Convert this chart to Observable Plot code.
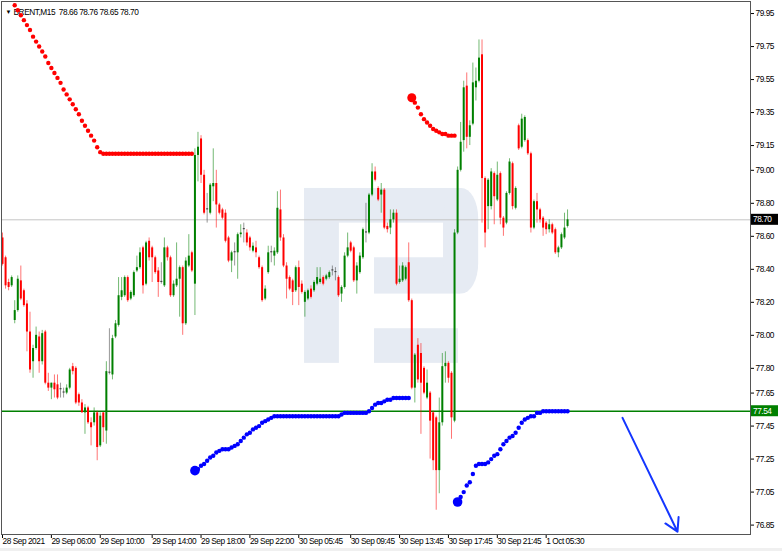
<!DOCTYPE html>
<html><head><meta charset="utf-8">
<script src="https://cdn.jsdelivr.net/npm/d3@7"></script>
<script src="https://cdn.jsdelivr.net/npm/@observablehq/plot@0.6"></script>
<style>
html,body{margin:0;padding:0;background:#fff;}
#chart{width:782px;height:551px;overflow:hidden;}
#chart svg text{ letter-spacing:-0.45px; }
#chart svg [aria-label^="x-axis"] text{ text-anchor:start; }
</style></head><body><div id="chart"></div>
<script>
// ---------- data ----------
const symbol = "BRENT,M15";
const lastQuote = [78.66, 78.76, 78.65, 78.70];   // O H L C of the last bar
const timeLabels = ["28 Sep 2021","29 Sep 06:00","29 Sep 10:00","29 Sep 14:00","29 Sep 18:00","29 Sep 22:00","30 Sep 05:45","30 Sep 09:45","30 Sep 13:45","30 Sep 17:45","30 Sep 21:45","1 Oct 05:30"];
const timeTickBars = [0,16,32,49,65,81,97,114,130,146,162,178];
const priceTicks = [79.95,79.75,79.55,79.35,79.15,79.00,78.80,78.60,78.40,78.20,78.00,77.80,77.65,77.45,77.25,77.05,76.85];
const bidLevel = 78.70;
const supportLevel = 77.54;

const opens = [78.59,78.47,78.32,78.30,78.09,78.15,78.33,78.27,78.19,78.02,77.84,77.92,77.99,77.84,78.02,77.71,77.68,77.71,77.70,77.67,77.65,77.65,77.68,77.81,77.80,77.64,77.59,77.53,77.56,77.47,77.47,77.53,77.33,77.53,77.42,77.77,77.76,77.99,78.06,78.23,78.24,78.35,78.22,78.24,78.39,78.41,78.53,78.31,78.57,78.53,78.47,78.39,78.32,78.30,78.53,78.47,78.24,78.30,78.34,78.41,78.07,78.42,78.50,78.31,79.09,79.19,78.97,78.76,78.74,78.90,78.92,78.79,78.76,78.74,78.59,78.45,78.50,78.50,78.61,78.64,78.62,78.59,78.51,78.53,78.47,78.41,78.22,78.38,78.50,78.48,78.50,78.76,78.59,78.42,78.35,78.33,78.27,78.41,78.31,78.20,78.22,78.28,78.27,78.31,78.32,78.35,78.34,78.35,78.39,78.38,78.35,78.25,78.29,78.48,78.56,78.53,78.33,78.38,78.47,78.62,78.62,78.85,78.99,78.89,78.85,78.88,78.66,78.65,78.70,78.74,78.32,78.33,78.34,78.44,78.21,77.68,77.94,77.89,77.80,77.62,77.65,77.53,77.50,77.18,77.47,77.81,77.83,77.77,77.48,78.62,79.00,79.18,79.51,79.20,79.28,79.50,79.54,79.70,78.95,78.78,78.78,78.98,78.82,78.98,78.71,78.68,78.86,79.04,78.77,79.27,79.14,79.18,79.18,79.10,78.65,78.81,78.76,78.71,78.68,78.64,78.67,78.64,78.50,78.53,78.59,78.66];
const highs = [78.62,78.48,78.34,78.36,78.21,78.36,78.42,78.28,78.21,78.14,77.94,78.05,78.02,78.03,78.03,77.77,77.71,77.76,77.76,77.71,77.68,77.70,77.80,77.83,77.81,77.65,77.61,77.58,77.57,77.50,77.56,77.54,77.53,77.53,77.84,78.04,78.00,78.09,78.35,78.35,78.36,78.36,78.27,78.39,78.48,78.53,78.54,78.57,78.59,78.54,78.48,78.41,78.44,78.59,78.54,78.48,78.33,78.56,78.42,78.42,78.47,78.61,78.51,79.13,79.23,79.21,79.00,78.86,78.92,79.13,79.00,78.80,78.77,78.76,78.60,78.51,78.56,78.62,78.67,78.68,78.64,78.60,78.56,78.57,78.48,78.42,78.30,78.54,78.54,78.53,78.87,78.88,78.61,78.44,78.36,78.34,78.42,78.45,78.33,78.27,78.28,78.30,78.33,78.41,78.41,78.36,78.37,78.39,78.42,78.41,78.36,78.30,78.50,78.62,78.57,78.54,78.44,78.50,78.65,78.80,78.86,79.04,79.02,78.90,78.92,78.89,78.68,78.76,78.76,78.76,78.42,78.44,78.42,78.56,78.22,77.89,77.98,77.95,77.81,77.79,77.66,77.54,77.51,77.62,77.89,77.90,77.84,77.78,78.64,79.02,79.29,79.54,79.59,79.30,79.65,79.62,79.79,79.79,78.96,78.95,79.01,78.99,79.05,78.99,78.72,78.87,79.07,79.05,78.90,79.28,79.34,79.33,79.19,79.11,78.82,78.86,78.77,78.72,78.69,78.70,78.68,78.65,78.54,78.62,78.74,78.76];
const lows = [78.42,78.28,78.27,78.29,78.07,78.14,78.21,78.17,77.90,77.77,77.74,77.91,77.77,77.82,77.70,77.66,77.61,77.62,77.61,77.62,77.62,77.64,77.67,77.76,77.58,77.57,77.53,77.40,77.46,77.33,77.45,77.24,77.32,77.35,77.34,77.76,77.73,77.98,78.05,78.21,78.23,78.20,78.21,78.23,78.38,78.40,78.25,78.30,78.45,78.32,78.37,78.23,78.31,78.29,78.45,78.23,78.23,78.29,78.11,78.00,78.06,78.41,78.38,78.12,78.93,78.92,78.73,78.68,78.73,78.81,78.65,78.73,78.70,78.56,78.44,78.38,78.42,78.34,78.59,78.56,78.54,78.51,78.50,78.47,78.40,78.20,78.21,78.37,78.44,78.42,78.49,78.57,78.41,78.22,78.27,78.18,78.26,78.18,78.25,78.11,78.21,78.22,78.26,78.30,78.31,78.30,78.33,78.34,78.36,78.33,78.23,78.20,78.28,78.47,78.50,78.32,78.25,78.37,78.46,78.56,78.61,78.84,78.93,78.81,78.74,78.64,78.62,78.61,78.68,78.30,78.31,78.32,78.33,78.20,77.67,77.59,77.71,77.40,77.64,77.61,77.25,77.18,76.94,77.04,77.45,77.71,77.71,77.37,77.47,78.61,78.99,79.11,79.13,79.15,79.27,79.42,79.53,78.68,78.53,78.64,78.76,78.67,78.81,78.67,78.60,78.67,78.85,78.76,78.76,79.12,79.13,79.17,79.09,78.62,78.64,78.68,78.68,78.60,78.61,78.62,78.61,78.49,78.47,78.52,78.58,78.65];
const closes = [78.43,78.30,78.29,78.35,78.15,78.34,78.22,78.18,78.02,77.79,77.92,78.00,77.84,78.01,77.71,77.68,77.71,77.67,77.62,77.67,77.65,77.68,77.79,77.78,77.59,77.59,77.53,77.56,77.47,77.44,77.53,77.32,77.51,77.44,77.78,77.77,77.98,78.07,78.24,78.27,78.35,78.21,78.26,78.38,78.41,78.50,78.30,78.56,78.47,78.47,78.38,78.32,78.32,78.53,78.47,78.24,78.31,78.34,78.41,78.07,78.45,78.48,78.39,79.09,79.14,78.97,78.74,78.76,78.91,78.92,78.79,78.74,78.71,78.57,78.45,78.50,78.50,78.61,78.62,78.64,78.56,78.53,78.54,78.50,78.41,78.21,78.28,78.50,78.50,78.51,78.77,78.59,78.42,78.34,78.28,78.26,78.41,78.29,78.26,78.26,78.27,78.23,78.32,78.35,78.34,78.31,78.36,78.38,78.39,78.38,78.24,78.29,78.48,78.53,78.51,78.33,78.42,78.48,78.64,78.62,78.85,78.99,78.94,78.82,78.88,78.65,78.64,78.70,78.74,78.31,78.34,78.42,78.41,78.21,77.68,77.88,77.73,77.71,77.65,77.71,77.48,77.24,77.18,77.47,77.81,77.83,77.74,77.50,78.62,79.00,79.17,79.50,79.20,79.27,79.53,79.54,79.68,78.95,78.62,78.94,78.99,78.84,78.97,78.71,78.65,78.86,79.05,78.78,78.89,79.13,79.31,79.32,79.10,78.65,78.81,78.76,78.70,78.65,78.64,78.67,78.62,78.50,78.53,78.61,78.65,78.70];

// trailing stop (SAR-style) dots, one per bar
const sarRed1Start = 4;
const sarRed1 = [80.00,79.97,79.94,79.91,79.88,79.85,79.81,79.78,79.75,79.72,79.69,79.65,79.62,79.59,79.56,79.53,79.49,79.46,79.43,79.40,79.37,79.34,79.30,79.27,79.24,79.21,79.18,79.14,79.11,
  79.10,79.10,79.10,79.10,79.10,79.10,79.10,79.10,79.10,79.10,79.10,79.10,79.10,79.10,79.10,79.10,79.10,79.10,79.10,79.10,79.10,79.10,79.10,79.10,79.10,79.10,79.10,79.10,79.10,79.10];
const sarBlue1Start = 63;
const sarBlue1 = [77.18,77.19,77.21,77.22,77.24,77.26,77.27,77.29,77.30,77.31,77.31,77.31,77.32,77.33,77.34,77.36,77.38,77.40,77.41,77.43,77.44,77.45,77.47,77.48,77.49,77.50,77.51,77.51,
  77.51,77.51,77.51,77.51,77.51,77.51,77.51,77.51,77.51,77.51,77.51,77.51,77.51,77.51,77.51,77.51,77.51,77.51,77.51,77.51,
  77.52,77.53,77.53,77.53,77.53,77.53,77.53,77.53,77.53,77.54,77.56,77.58,77.59,77.59,77.60,77.61,77.61,77.62,77.62,77.62,77.62,77.62,77.62];
const sarRed2Start = 134;
const sarRed2 = [79.44,79.41,79.38,79.34,79.31,79.29,79.27,79.25,79.24,79.23,79.22,79.22,79.21,79.21,79.21];
const sarBlue2Start = 149;
const sarBlue2 = [76.99,77.02,77.05,77.09,77.11,77.16,77.21,77.22,77.22,77.22,77.23,77.25,77.27,77.28,77.31,77.34,77.36,77.38,77.39,77.41,77.44,77.47,77.49,77.50,77.51,77.51,77.53,77.53,77.54,
  77.54,77.54,77.54,77.54,77.54,77.54,77.54,77.54];

// forecast arrow (bar index, price)
const forecastBars = [203, 221];
const forecastPrices = [77.50, 76.81];

// watermark logo blocks (bar index, price)
const logoBlocks = [
  {x1: 98.9, x2: 110.3, y1: 77.83, y2: 78.89},
  {x1: 98.9, x2: 150.0, y1: 78.68, y2: 78.89},
  {x1: 121.8, x2: 150.0, y1: 78.25, y2: 78.47},
  {x1: 121.8, x2: 149.3, y1: 77.83, y2: 78.04}
];
const logoBowl = [{x1: 144.4, x2: 155.9, y1: 78.25, y2: 78.89}];

// ---------- build ----------
const candles = opens.map((o, i) => ({i, o, h: highs[i], l: lows[i], c: closes[i]}));
const candleColor = d => d.c > d.o ? "#008000" : d.c < d.o ? "#ff0000" : "#444";
const series = (start, vals) => vals.map((v, k) => ({bar: start + k, price: v}));
const red1 = series(sarRed1Start, sarRed1);
const blue1 = series(sarBlue1Start, sarBlue1);
const red2 = series(sarRed2Start, sarRed2);
const blue2 = series(sarBlue2Start, sarBlue2);
const header = symbol + "\u00a0\u00a0" + lastQuote.map(v => v.toFixed(2)).join(" ");
const arrow = [{x1: forecastBars[0], y1: forecastPrices[0], x2: forecastBars[1], y2: forecastPrices[1]}];
const FONT = "'Liberation Sans', Arial, sans-serif";

const plot = Plot.plot({
  width: 782,
  height: 551,
  marginLeft: 1,
  marginTop: 1,
  marginRight: 32,
  marginBottom: 17,
  style: {fontFamily: FONT, fontSize: "8.3px", background: "#fff", color: "#000", overflow: "visible"},
  x: {domain: [-0.33, 244.9], ticks: timeTickBars, tickFormat: d => timeLabels[timeTickBars.indexOf(d)], tickSize: 4, tickPadding: 0, label: null},
  y: {domain: [76.793, 80.023], axis: "right", ticks: priceTicks, tickFormat: d => d.toFixed(2), tickSize: 3, tickPadding: 2, label: null},
  marks: [
    Plot.rect(logoBlocks, {x1: "x1", x2: "x2", y1: "y1", y2: "y2", fill: "#e6ebf3"}),
    Plot.rect(logoBowl, {x1: "x1", x2: "x2", y1: "y1", y2: "y2", fill: "#e6ebf3", rx: 17, ry: 30}),
    Plot.ruleY([bidLevel], {stroke: "#c4c4c4", strokeWidth: 1}),
    Plot.ruleY([supportLevel], {stroke: "#008000", strokeWidth: 1.5}),
    Plot.ruleX(candles, {x: "i", y1: "l", y2: "h", stroke: candleColor, strokeOpacity: 0.55, strokeWidth: 1}),
    Plot.ruleX(candles, {x: "i", y1: "o", y2: d => Math.abs(d.c - d.o) < 0.004 ? d.o + 0.007 : d.c, stroke: candleColor, strokeWidth: 2}),
    Plot.text([header], {text: d => d, frameAnchor: "top-left", dx: 12, dy: 8, textAnchor: "start", fill: "#000", fontSize: 8.3}),
    Plot.text(["\u25bc"], {text: d => d, frameAnchor: "top-left", dx: 4, dy: 8, textAnchor: "start", fill: "#000", fontSize: 6}),
    Plot.dot(red1, {x: "bar", y: "price", r: 2.2, fill: "#ff0000"}),
    Plot.dot(blue1, {x: "bar", y: "price", r: 2.2, fill: "#0000ff"}),
    Plot.dot(red2, {x: "bar", y: "price", r: 2.2, fill: "#ff0000"}),
    Plot.dot(blue2, {x: "bar", y: "price", r: 2.2, fill: "#0000ff"}),
    Plot.dot([blue1[0], blue2[0]], {x: "bar", y: "price", r: 4.8, fill: "#0000ff"}),
    Plot.dot([red2[0]], {x: "bar", y: "price", r: 4.5, fill: "#ff0000"}),
    Plot.arrow(arrow, {x1: "x1", y1: "y1", x2: "x2", y2: "y2", stroke: "#1436ff", strokeWidth: 2, headLength: 11}),
    Plot.frame({stroke: "#555", strokeWidth: 1})
  ]
});
document.getElementById("chart").appendChild(plot);

// price tags on the right axis
const sy = plot.scale("y");
const svg = d3.select(plot);
[[bidLevel, "#000"], [supportLevel, "#008000"]].forEach(([v, col]) => {
  const y = sy.apply(v);
  const g = svg.append("g").attr("text-anchor", "start");
  g.append("rect").attr("x", 751).attr("y", y - 5.5).attr("width", 27).attr("height", 11).attr("fill", col);
  g.append("text").attr("x", 753).attr("y", y).attr("dy", "0.35em").attr("fill", "#fff")
    .attr("text-anchor", "start")
    .style("font-family", FONT).style("font-size", "8.3px").text(v.toFixed(2));
});
svg.append("rect").attr("x", 0).attr("y", 548).attr("width", 782).attr("height", 3).attr("fill", "#f0f0f0");
</script>
</body></html>
